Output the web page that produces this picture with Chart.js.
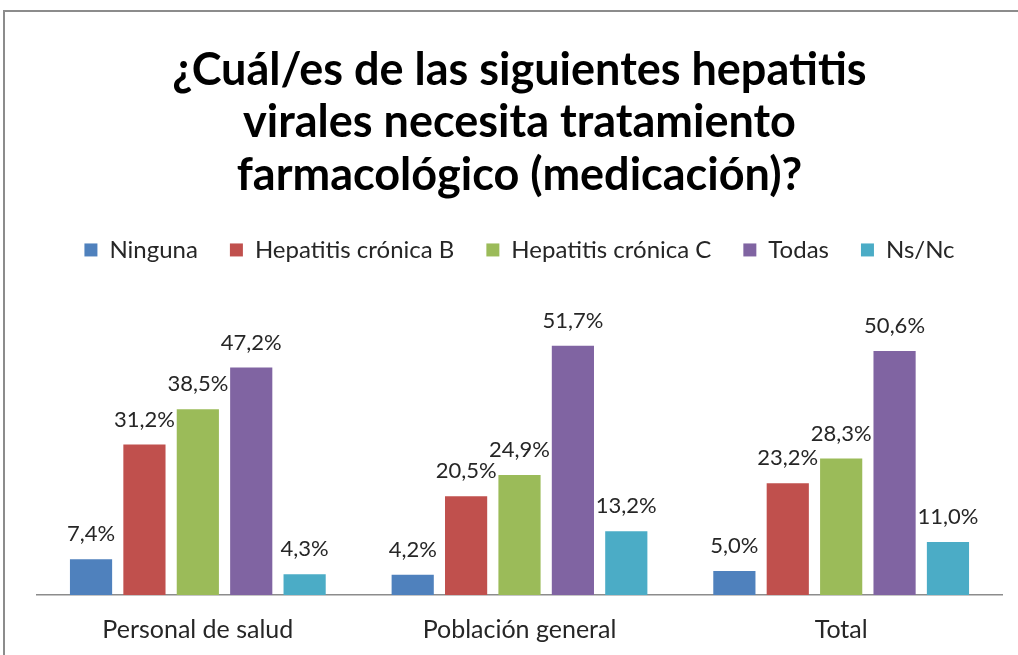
<!DOCTYPE html>
<html>
<head>
<meta charset="utf-8">
<script src="https://cdn.jsdelivr.net/npm/chart.js@4"></script>
<style>
  html, body { margin: 0; padding: 0; background: #fff; overflow: hidden; }
  #wrap { position: relative; width: 1018px; height: 655px; overflow: hidden; }
  #frame { position: absolute; left: 3px; top: 10px; width: 1100px; height: 700px; border-top: 2px solid #8c8c8c; border-left: 2px solid #8c8c8c; pointer-events: none; }
</style>
</head>
<body>
<div id="wrap">
  <canvas id="myChart" width="1018" height="655"></canvas>
  <div id="frame"></div>
</div>
<script>
const categories = ['Personal de salud', 'Población general', 'Total']
const seriesNames = ['Ninguna', 'Hepatitis crónica B', 'Hepatitis crónica C', 'Todas', 'Ns/Nc']
const ninguna = [7.4, 4.2, 5.0]
const hepB = [31.2, 20.5, 23.2]
const hepC = [38.5, 24.9, 28.3]
const todas = [47.2, 51.7, 50.6]
const nsnc = [4.3, 13.2, 11.0]
const colors = ['#4F81BD', '#C0504D', '#9BBB59', '#8064A2', '#4BACC6']

const fontFamily = 'Lato, "Open Sans", sans-serif'

// draws the percentage above each bar
const valueLabels = {
    id: 'valueLabels',
    afterDatasetsDraw(chart) {
        const ctx = chart.ctx
        ctx.save()
        ctx.font = '22px ' + fontFamily
        ctx.fillStyle = '#262626'
        ctx.textAlign = 'center'
        ctx.textBaseline = 'bottom'
        chart.data.datasets.forEach((ds, i) => {
            chart.getDatasetMeta(i).data.forEach((bar, j) => {
                const txt = ds.data[j].toFixed(1).replace('.', ',') + '%'
                ctx.fillText(txt, bar.x, bar.y - 14)
            })
        })
        ctx.restore()
    }
}

const allSeries = [ninguna, hepB, hepC, todas, nsnc]

const data = {
    labels: categories,
    datasets: allSeries.map((vals, i) => ({
        label: seriesNames[i],
        data: vals,
        backgroundColor: colors[i],
        borderWidth: 0,
        categoryPercentage: 0.83,
        barPercentage: 0.79
    }))
}

const config = {
    type: 'bar',
    data: data,
    options: {
        responsive: false,
        animation: false,
        layout: { padding: { top: 44, left: 37, right: 16, bottom: -2 } },
        plugins: {
            tooltip: { enabled: false },
            title: {
                display: true,
                text: ['¿Cuál/es de las siguientes hepatitis', 'virales necesita tratamiento', 'farmacológico (medicación)?'],
                font: { family: fontFamily, size: 45, weight: 'bold', lineHeight: 1.17 },
                color: '#000',
                padding: { top: 0, bottom: 4 }
            },
            legend: {
                position: 'top',
                labels: {
                    font: { family: fontFamily, size: 24 },
                    color: '#262626',
                    boxWidth: 13,
                    boxHeight: 13,
                    padding: 32
                }
            }
        },
        scales: {
            x: {
                grid: { display: false },
                border: { display: true, color: '#8c8c8c', width: 1.5 },
                ticks: { font: { family: fontFamily, size: 25 }, color: '#262626', padding: 12 }
            },
            y: {
                display: false,
                min: 0,
                max: 67
            }
        }
    },
    plugins: [valueLabels]
}

const ctx = document.getElementById('myChart').getContext('2d')
new Chart(ctx, config)
</script>
</body>
</html>
